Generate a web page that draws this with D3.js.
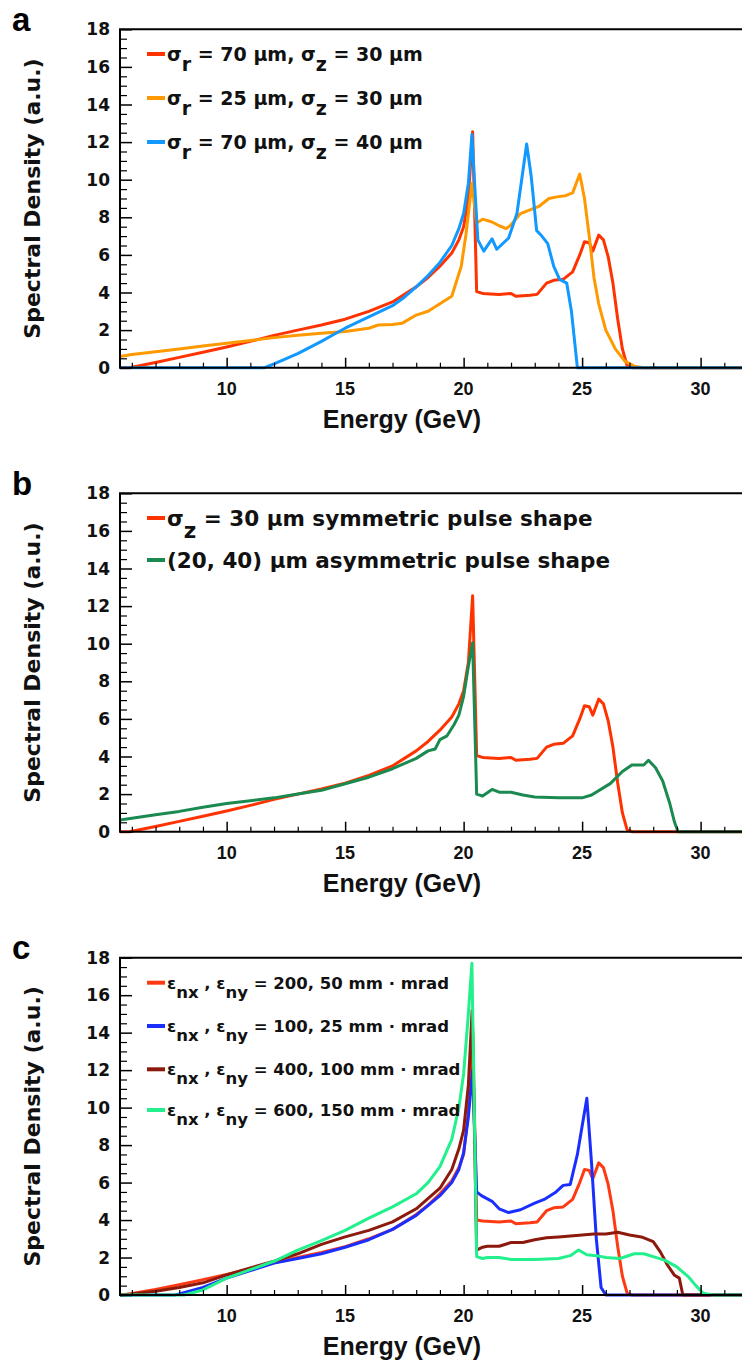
<!DOCTYPE html>
<html><head><meta charset="utf-8">
<script src="https://cdn.jsdelivr.net/npm/d3@7"></script>
<style>body{margin:0;background:#fff}svg{display:block}</style>
</head><body><svg id="chart" width="742" height="1367"></svg>
<script>
// ---------- data ----------
const energyDomain = [5.5, 32];
const densityDomain = [0, 18];
const yTickValues = [0, 2, 4, 6, 8, 10, 12, 14, 16, 18];
const xTickValues = [10, 15, 20, 25, 30];
const xMinorTicks = [6,7,8,9,11,12,13,14,16,17,18,19,21,22,23,24,26,27,28,29,31];
const yMinorTicks = d3.range(0.5, 18, 0.5).filter(v => v % 2 !== 0);
const panelLetters = ["a", "b", "c"];
const xAxisTitle = "Energy (GeV)";
const yAxisTitle = "Spectral Density (a.u.)";

// panel a / b : sigma_r = 70, sigma_z = 30 (red)
const redE = [5.5,5.9,7,8,9,10,11,12,13,14,15,16,17,18,18.5,19,19.5,19.8,20,20.2,20.38,20.55,20.8,21.5,22,22.2,22.8,23.1,23.5,23.8,24.2,24.6,24.9,25.1,25.3,25.45,25.7,25.9,26.1,26.3,26.5,26.7,26.9,27.1,32];
const redV = [0,0,0.28,0.55,0.82,1.1,1.4,1.72,2.0,2.27,2.58,3.0,3.5,4.3,4.8,5.4,6.1,6.8,7.5,9.0,12.55,4.05,3.95,3.9,3.95,3.8,3.85,3.9,4.5,4.65,4.7,5.1,6.0,6.7,6.65,6.2,7.05,6.8,5.9,4.5,2.6,1.0,0.1,0,0];
// panel a : sigma_r = 25, sigma_z = 30 (orange)
const orangeE = [5.5,6,7,8,9,10,11,12,13,14,15,16,16.4,17,17.4,18,18.5,19,19.5,19.9,20.1,20.35,20.55,20.8,21.2,21.5,21.8,22,22.4,22.8,23.2,23.6,24,24.3,24.6,24.9,25.1,25.3,25.5,25.7,26,26.4,26.8,27.2,27.6,32];
const orangeV = [0.6,0.7,0.85,1.0,1.15,1.3,1.45,1.6,1.72,1.83,1.92,2.1,2.27,2.3,2.36,2.8,3.0,3.4,3.8,5.4,7.1,9.8,7.7,7.9,7.75,7.55,7.4,7.6,8.2,8.4,8.6,9.0,9.1,9.15,9.3,10.3,9.0,7.0,4.8,3.4,2.0,1.0,0.35,0.08,0,0];
// panel a : sigma_r = 70, sigma_z = 40 (blue)
const blueAE = [5.5,11.6,12,13,14,14.5,15,16,17,17.5,18,18.5,19,19.5,19.8,20,20.2,20.35,20.5,20.6,20.85,21.2,21.4,21.9,22.25,22.45,22.66,22.85,23.08,23.3,23.55,23.8,24.05,24.35,24.55,24.7,24.8,32];
const blueAV = [0,0,0.2,0.75,1.4,1.75,2.1,2.7,3.3,3.75,4.3,4.9,5.6,6.5,7.4,8.2,9.8,12.4,9.0,6.8,6.2,6.85,6.3,6.9,8.2,10.0,11.9,10.2,7.3,7.0,6.6,5.4,4.7,4.5,3.0,1.2,0,0];
// panel b : (20, 40) asymmetric (green)
const greenBE = [5.5,6,7,8,9,10,11,12,13,14,15,16,17,18,18.5,18.8,19,19.3,19.6,19.8,20,20.2,20.38,20.55,20.8,21.2,21.5,22,22.5,23,24,25,25.4,26.2,26.7,27.1,27.6,27.8,28.1,28.4,28.7,28.9,29.05,32];
const greenBV = [0.62,0.72,0.9,1.08,1.3,1.5,1.65,1.8,2.0,2.2,2.55,2.9,3.35,3.9,4.3,4.4,4.9,5.1,5.7,6.2,7.2,8.8,10.05,2.0,1.9,2.25,2.1,2.1,1.95,1.85,1.8,1.8,1.95,2.57,3.2,3.55,3.55,3.8,3.4,2.7,1.5,0.5,0,0];
// panel c : emittance scans
const redCE = [5.5,5.9,7,8,9,10,11,12,13,14,15,16,17,18,18.5,19,19.5,19.8,20,20.2,20.38,20.55,20.8,21.5,22,22.2,22.8,23.1,23.5,23.8,24.2,24.6,24.9,25.1,25.3,25.45,25.7,25.9,26.1,26.3,26.5,26.7,26.9,27.1,32];
const redCV = [0,0.05,0.3,0.55,0.82,1.1,1.4,1.72,2.0,2.27,2.58,3.0,3.5,4.3,4.8,5.4,6.1,6.8,7.5,9.8,14.3,4.0,3.95,3.9,3.95,3.8,3.85,3.9,4.5,4.65,4.7,5.1,6.0,6.7,6.65,6.2,7.05,6.8,5.9,4.5,2.6,1.0,0.1,0,0];
const blueCE = [5.5,7.8,8,9,10,11,12,13,14,15,16,17,18,19,19.5,19.8,20,20.2,20.38,20.55,20.75,21.2,21.5,21.9,22.4,23,23.4,23.9,24.2,24.5,24.8,25.0,25.2,25.4,25.6,25.8,26.0,32];
const blueCV = [0,0,0.05,0.4,0.9,1.3,1.7,1.95,2.2,2.55,2.95,3.5,4.25,5.3,6.0,6.7,7.6,9.5,12.0,5.5,5.3,5.0,4.6,4.4,4.55,4.9,5.1,5.5,5.85,5.9,7.5,9.0,10.5,7.0,3.0,0.4,0,0];
const brownCE = [5.5,6,7,8,9,10,11,12,13,14,15,16,17,18,19,19.5,19.8,20,20.2,20.36,20.55,20.8,21,21.5,22,22.5,23,23.5,24,25,25.5,26,26.5,27,27.5,28,28.3,28.6,28.9,29.1,29.25,32];
const brownCV = [0,0.05,0.2,0.4,0.65,1.07,1.45,1.8,2.2,2.7,3.1,3.45,3.9,4.6,5.7,6.7,7.8,8.8,11.2,15.2,2.4,2.55,2.6,2.6,2.8,2.8,2.95,3.05,3.1,3.2,3.25,3.25,3.35,3.2,3.1,2.85,2.3,1.6,1.05,0.9,0,0];
const greenCE = [5.5,8.2,9,10,11,12,13,14,15,16,17,18,18.5,19,19.5,19.8,20,20.2,20.35,20.55,20.8,21,21.5,22,23,24,24.5,24.85,25.2,25.6,26,26.6,27.2,27.6,28,28.5,29,29.5,29.8,30.1,30.5,32];
const greenCV = [0,0,0.27,0.9,1.35,1.8,2.4,2.9,3.45,4.1,4.7,5.4,6.0,6.85,8.3,10.0,11.8,15.0,17.7,2.05,1.95,2.0,2.0,1.9,1.9,1.95,2.1,2.4,2.15,2.1,2.0,1.95,2.2,2.2,2.05,1.85,1.5,0.95,0.5,0.1,0,0];

// legends: each row is a list of [text, isSubscript]
const legendA = [
  [["σ",0],["r",1],[" = 70 μm, σ",0],["z",1],[" = 30 μm",0]],
  [["σ",0],["r",1],[" = 25 μm, σ",0],["z",1],[" = 30 μm",0]],
  [["σ",0],["r",1],[" = 70 μm, σ",0],["z",1],[" = 40 μm",0]]
];
const legendB = [
  [["σ",0],["z",1],[" = 30 μm symmetric pulse shape",0]],
  [["(20, 40) μm asymmetric pulse shape",0]]
];
const legendC = [
  [["ε",0],["nx",1],[" , ε",0],["ny",1],[" = 200, 50 mm · mrad",0]],
  [["ε",0],["nx",1],[" , ε",0],["ny",1],[" = 100, 25 mm · mrad",0]],
  [["ε",0],["nx",1],[" , ε",0],["ny",1],[" = 400, 100 mm · mrad",0]],
  [["ε",0],["nx",1],[" , ε",0],["ny",1],[" = 600, 150 mm · mrad",0]]
];

const colorsA = ["#ff3300", "#ff9900", "#1199ff"];
const colorsB = ["#ff3300", "#1a8a50"];
const colorsC = ["#ff3a12", "#1a2fff", "#8b1a0c", "#22f08c"];

// ---------- layout ----------
const W = 742, H = 1367;
const plotLeft = 120, plotRight = 748;
const panels = [
  {letter: panelLetters[0], top: 29.3, bottom: 367.7,
   series: [[redE, redV], [orangeE, orangeV], [blueAE, blueAV]], colors: colorsA,
   legend: legendA, legendY: [54, 98, 142], legendSize: 19},
  {letter: panelLetters[1], top: 493.3, bottom: 831.7,
   series: [[redE, redV], [greenBE, greenBV]], colors: colorsB,
   legend: legendB, legendY: [518, 560], legendSize: 21.5},
  {letter: panelLetters[2], top: 957.7, bottom: 1295,
   series: [[redCE, redCV], [blueCE, blueCV], [brownCE, brownCV], [greenCE, greenCV]], colors: colorsC,
   legend: legendC, legendY: [982.7, 1026, 1069.3, 1110], legendSize: 16.5}
];

const svg = d3.select("#chart");
svg.append("rect").attr("width", W).attr("height", H).attr("fill", "#fff");

const x = d3.scaleLinear().domain(energyDomain).range([plotLeft, plotRight]);

panels.forEach(p => {
  const y = d3.scaleLinear().domain(densityDomain).range([p.bottom, p.top]);
  const g = svg.append("g");

  // curves
  const line = d3.line().x(d => x(d[0])).y(d => y(d[1]));
  p.series.forEach((s, i) => {
    const pts = s[0].map((e, k) => [e, s[1][k]]);
    g.append("path").datum(pts).attr("d", line)
      .attr("fill", "none").attr("stroke", p.colors[i])
      .attr("stroke-width", 3).attr("stroke-linejoin", "round");
  });

  // axes (ticks inward)
  const yAxis = d3.axisRight(y).tickValues(yTickValues).tickSize(12).tickFormat("");
  g.append("g").attr("transform", `translate(${plotLeft},0)`).call(yAxis)
    .call(a => a.select(".domain").remove())
    .selectAll("line").attr("stroke", "#000").attr("stroke-width", 1.5);
  const yAxisMinor = d3.axisRight(y).tickValues(yMinorTicks).tickSize(7).tickFormat("");
  g.append("g").attr("transform", `translate(${plotLeft},0)`).call(yAxisMinor)
    .call(a => a.select(".domain").remove())
    .selectAll("line").attr("stroke", "#000").attr("stroke-width", 1.2);

  const xAxis = d3.axisTop(x).tickValues(xTickValues).tickSize(10).tickFormat("");
  g.append("g").attr("transform", `translate(0,${p.bottom})`).call(xAxis)
    .call(a => a.select(".domain").remove())
    .selectAll("line").attr("stroke", "#000").attr("stroke-width", 1.5);
  const xAxisMinor = d3.axisTop(x).tickValues(xMinorTicks).tickSize(5).tickFormat("");
  g.append("g").attr("transform", `translate(0,${p.bottom})`).call(xAxisMinor)
    .call(a => a.select(".domain").remove())
    .selectAll("line").attr("stroke", "#000").attr("stroke-width", 1.2);

  // frame
  g.append("path")
    .attr("d", `M${plotRight + 10},${p.top}H${plotLeft}V${p.bottom}H${plotRight + 10}`)
    .attr("fill", "none").attr("stroke", "#000").attr("stroke-width", 2);

  // tick labels
  g.selectAll(".ylab").data(yTickValues).enter().append("text")
    .attr("x", 110).attr("y", d => y(d)).attr("dy", "0.36em")
    .attr("text-anchor", "end")
    .style("font-family", "'DejaVu Sans', sans-serif").style("font-weight", "bold")
    .style("font-size", "17px").attr("fill", "#111").text(d => d);
  g.selectAll(".xlab").data(xTickValues).enter().append("text")
    .attr("x", d => x(d)).attr("y", p.bottom + 27)
    .attr("text-anchor", "middle")
    .style("font-family", "'Liberation Sans', Arial, sans-serif").style("font-weight", "bold")
    .style("font-size", "18px").attr("fill", "#111").text(d => d);

  // axis titles
  g.append("text").attr("x", 402).attr("y", p.bottom + 60)
    .attr("text-anchor", "middle")
    .style("font-family", "'Liberation Sans', Arial, sans-serif").style("font-weight", "bold")
    .style("font-size", "25px").attr("fill", "#111").text(xAxisTitle);
  g.append("text")
    .attr("transform", `translate(40,${(p.top + p.bottom) / 2}) rotate(-90)`)
    .attr("text-anchor", "middle")
    .style("font-family", "'DejaVu Sans', sans-serif").style("font-weight", "bold")
    .style("font-size", "22px").attr("fill", "#111").text(yAxisTitle);

  // panel letter
  g.append("text").attr("x", 12).attr("y", p.top + 1.5)
    .style("font-family", "'Liberation Sans', Arial, sans-serif").style("font-weight", "bold")
    .style("font-size", "33px").attr("fill", "#000").text(p.letter);

  // legend
  p.legend.forEach((row, i) => {
    const ly = p.legendY[i];
    g.append("line").attr("x1", 147).attr("x2", 165).attr("y1", ly).attr("y2", ly)
      .attr("stroke", p.colors[i]).attr("stroke-width", 4);
    const t = g.append("text").attr("x", 167).attr("y", ly + 0.365 * p.legendSize)
      .style("font-family", "'DejaVu Sans', sans-serif").style("font-weight", "bold")
      .style("font-size", p.legendSize + "px").attr("fill", "#111");
    let shifted = false;
    row.forEach(([txt, sub]) => {
      const ts = t.append("tspan").text(txt);
      if (sub && !shifted) { ts.attr("dy", "0.55em"); shifted = true; }
      else if (!sub && shifted) { ts.attr("dy", "-0.55em"); shifted = false; }
    });
  });
});
</script></body></html>
